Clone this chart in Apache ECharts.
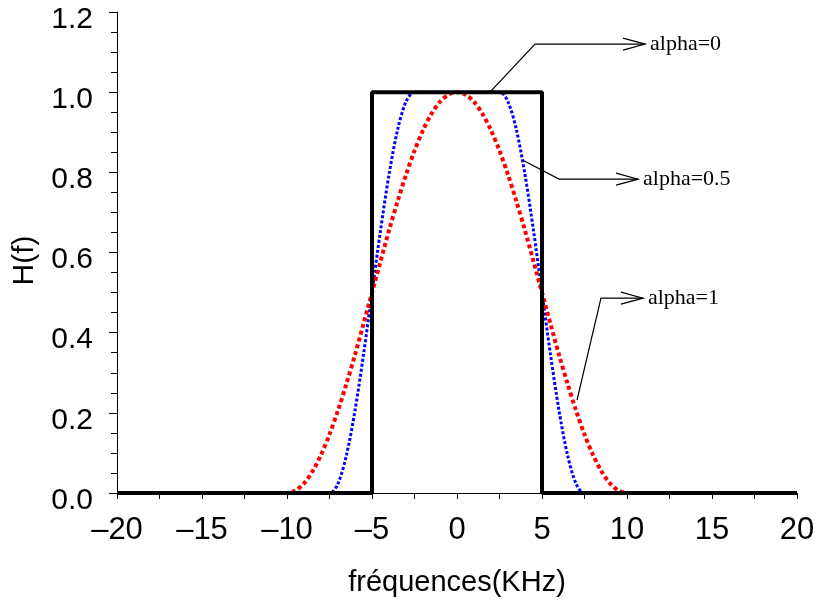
<!DOCTYPE html>
<html>
<head>
<meta charset="utf-8">
<script src="https://cdn.jsdelivr.net/npm/echarts@6/dist/echarts.min.js"></script>
<style>html,body{margin:0;padding:0;background:#fff;}#c{width:815px;height:606px;}</style>
</head>
<body>
<div id="c"></div>
<script>
// alpha = 0 (ideal rectangle)
var alpha0X = [-20, -5, -5, 5, 5, 20];
var alpha0Y = [0, 0, 1, 1, 0, 0];
// alpha = 0.5
var alpha05X = [-20, -7.5, -7, -6.5, -6, -5.5, -5, -4.5, -4, -3.5, -3, -2.5, 0, 2.5, 3, 3.5, 4, 4.5, 5, 5.5, 6, 6.5, 7, 7.5, 20];
var alpha05Y = [0, 0, 0.024, 0.095, 0.206, 0.345, 0.5, 0.655, 0.794, 0.905, 0.976, 1, 1, 1, 0.976, 0.905, 0.794, 0.655, 0.5, 0.345, 0.206, 0.095, 0.024, 0, 0];
// alpha = 1
var alpha1X = [-20, -10, -9.5, -9, -8.5, -8, -7.5, -7, -6.5, -6, -5.5, -5, -4.5, -4, -3.5, -3, -2.5, -2, -1.5, -1, -0.5, 0, 0.5, 1, 1.5, 2, 2.5, 3, 3.5, 4, 4.5, 5, 5.5, 6, 6.5, 7, 7.5, 8, 8.5, 9, 9.5, 10, 20];
var alpha1Y = [0, 0, 0.006, 0.024, 0.054, 0.095, 0.146, 0.206, 0.273, 0.345, 0.422, 0.5, 0.578, 0.655, 0.727, 0.794, 0.854, 0.905, 0.946, 0.976, 0.994, 1, 0.994, 0.976, 0.946, 0.905, 0.854, 0.794, 0.727, 0.655, 0.578, 0.5, 0.422, 0.345, 0.273, 0.206, 0.146, 0.095, 0.054, 0.024, 0.006, 0, 0];
// annotations: [label, start point, corner point, arrow tip] in data coordinates
var annLabels = ['alpha=0', 'alpha=0.5', 'alpha=1'];
var annStart = [[1.94, 1.0], [3.88, 0.83], [7.06, 0.232]];
var annCorner = [[4.59, 1.12], [6.0, 0.783], [8.47, 0.486]];
var annTip = [[11.06, 1.12], [10.65, 0.783], [10.94, 0.486]];

function zip(xs, ys) { return xs.map(function (x, i) { return [x, ys[i]]; }); }

var chart = echarts.init(document.getElementById('c'), null, {renderer: 'canvas'});
var font = '"Liberation Sans", Arial, sans-serif';
chart.setOption({
  animation: false,
  backgroundColor: '#fff',
  grid: {left: 117, right: 18, top: 12, bottom: 113, containLabel: false, outerBoundsMode: 'none'},
  xAxis: {
    type: 'value', min: -20, max: 20, interval: 5,
    axisLine: {show: true, onZero: false, lineStyle: {color: '#000', width: 1}},
    axisTick: {show: true, length: 6, lineStyle: {color: '#000'}},
    minorTick: {show: true, splitNumber: 2, length: 6, lineStyle: {color: '#000'}},
    splitLine: {show: false},
    axisLabel: {color: '#000', fontSize: 31, fontFamily: font, margin: 22,
      formatter: function (v) { return String(v).replace('-', '\u2013'); }},
    name: 'fréquences(KHz)', nameLocation: 'middle', nameGap: 75,
    nameTextStyle: {color: '#000', fontSize: 29, fontFamily: font}
  },
  yAxis: {
    type: 'value', min: 0, max: 1.2, interval: 0.2,
    axisLine: {show: true, onZero: false, lineStyle: {color: '#000', width: 1}},
    axisTick: {show: true, length: 8, lineStyle: {color: '#000'}},
    minorTick: {show: true, splitNumber: 4, length: 6, lineStyle: {color: '#000'}},
    splitLine: {show: false},
    axisLabel: {color: '#000', fontSize: 30, fontFamily: font, margin: 24,
      verticalAlign: 'top', lineHeight: 15,
      formatter: function (v) { return v.toFixed(1); }},
    name: 'H(f)', nameLocation: 'middle', nameGap: 77, nameRotate: 90,
    nameTextStyle: {color: '#000', fontSize: 30, fontFamily: font, padding: [0, 16, 0, 0]}
  },
  series: [
    {type: 'line', name: 'alpha=0.5', data: zip(alpha05X, alpha05Y), showSymbol: false, symbol: 'none', smooth: 0.3,
      lineStyle: {color: '#0000ff', width: 3, type: [3, 2]}, z: 2},
    {type: 'line', name: 'alpha=1', data: zip(alpha1X, alpha1Y), showSymbol: false, symbol: 'none', smooth: 0.3,
      lineStyle: {color: '#ff0000', width: 4, type: [4, 3]}, z: 3},
    {type: 'line', name: 'alpha=0', data: zip(alpha0X, alpha0Y), showSymbol: false, symbol: 'none',
      lineStyle: {color: '#000', width: 4, type: 'solid'}, z: 4}
  ]
});

var g = [];
for (var i = 0; i < annLabels.length; i++) {
  var s = chart.convertToPixel({gridIndex: 0}, annStart[i]);
  var c = chart.convertToPixel({gridIndex: 0}, annCorner[i]);
  var t = chart.convertToPixel({gridIndex: 0}, annTip[i]);
  g.push({type: 'polyline', shape: {points: [s, c, t]}, style: {stroke: '#000', lineWidth: 1.2, fill: null}, z: 100});
  g.push({type: 'polyline', shape: {points: [[t[0] - 22, t[1] - 6], t, [t[0] - 22, t[1] + 6]]}, style: {stroke: '#000', lineWidth: 1.2, fill: null}, z: 100});
  g.push({type: 'text', x: t[0] + 5, y: t[1], style: {text: annLabels[i], fill: '#000', font: '22px "Liberation Serif", "Times New Roman", serif', textVerticalAlign: 'middle', verticalAlign: 'middle'}, z: 100});
}
chart.setOption({graphic: g});
</script>
</body>
</html>
